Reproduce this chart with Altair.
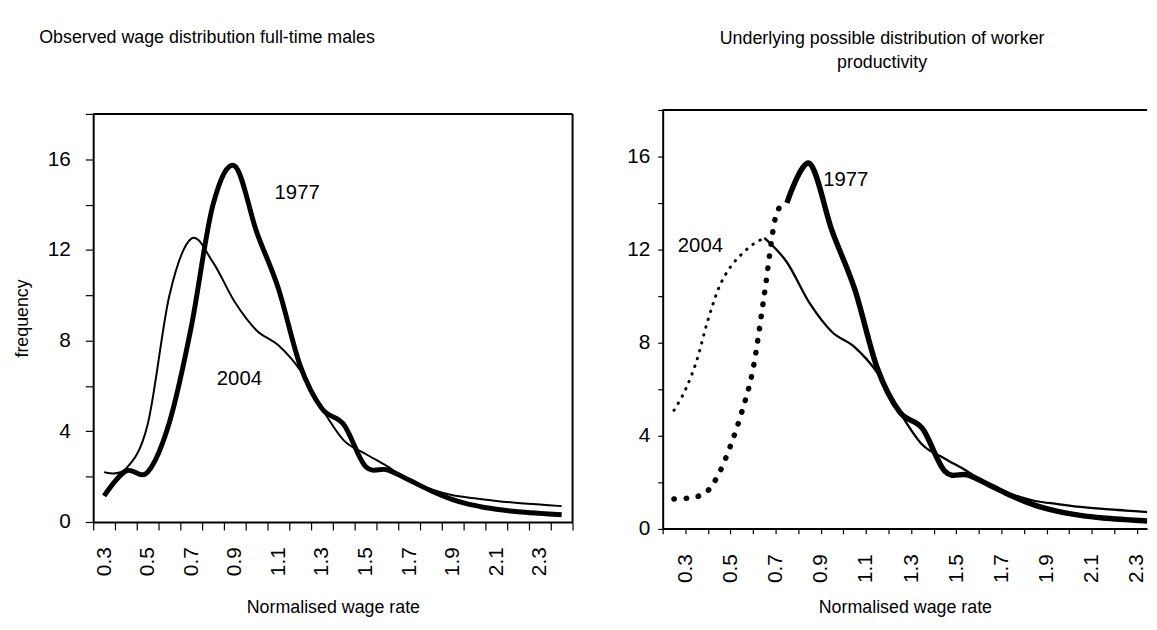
import altair as alt
import pandas as pd

# ---------------- data ----------------
wage_x = [0.3, 0.4, 0.5, 0.6, 0.7, 0.8, 0.9, 1.0, 1.1, 1.2, 1.3,
          1.4, 1.5, 1.6, 1.7, 1.8, 1.9, 2.0, 2.1, 2.2, 2.3, 2.4]
freq_1977 = [1.15, 2.25, 2.2, 4.4, 8.6, 14.0, 15.7, 12.8, 10.3, 6.9, 5.0,
             4.3, 2.45, 2.3, 1.85, 1.38, 0.99, 0.73, 0.56, 0.45, 0.38, 0.32]
freq_2004 = [2.2, 2.35, 4.3, 10.0, 12.5, 11.45, 9.7, 8.45, 7.8, 6.7, 5.0,
             3.6, 3.0, 2.45, 1.8, 1.45, 1.18, 1.05, 0.93, 0.84, 0.77, 0.70]

# underlying (dotted) productivity tails, right panel
prod_x_1977 = [0.3, 0.35, 0.4, 0.45, 0.5, 0.55, 0.6, 0.65, 0.7, 0.75, 0.8]
prod_1977 = [1.27, 1.29, 1.36, 1.62, 2.38, 3.55, 5.0, 6.85, 10.05, 13.4, 14.0]
prod_x_2004 = [0.3, 0.35, 0.4, 0.45, 0.5, 0.55, 0.6, 0.65, 0.7]
prod_2004 = [5.08, 5.95, 7.2, 8.95, 10.38, 11.25, 11.8, 12.22, 12.5]

x_tick_labels = ["0.3", "0.5", "0.7", "0.9", "1.1", "1.3", "1.5",
                 "1.7", "1.9", "2.1", "2.3"]
y_ticks = [0, 2, 4, 6, 8, 10, 12, 14, 16, 18]

series_labels = ["1977", "2004"]
left_label_x = [1.186, 0.921]
left_label_y = [14.5, 6.3]
right_label_x = [1.061, 0.417]
right_label_y = [15.0, 12.15]

FONT = "Liberation Sans"
FS_TITLE = 18
FS_TICK = 21
FS_NOTE = 20.5

# ---------------- helpers ----------------
x_min, x_max_left, x_max_right = 0.25, 2.45, 2.395
y_min, y_max = 0, 18
boundaries = [round(0.25 + 0.1 * k, 2) for k in range(23)]
label_vals_left = [float(s) for s in x_tick_labels]


def df_line(xs, ys):
    return pd.DataFrame({"x": xs, "y": ys})


def frame_df(x0, x1, y0, y1):
    return pd.DataFrame({"x": [x0], "x2": [x1], "y": [y0], "y2": [y1]})


y_label_expr = "datum.value % 4 == 0 ? format(datum.value, 'd') : ''"

# ---------------- left panel ----------------
LW, LH = 484, 422.5
lx = alt.X("x:Q", scale=alt.Scale(domain=[x_min, x_max_left], nice=False, zero=False),
           axis=alt.Axis(values=sorted(boundaries + label_vals_left), tickCount=200,
                         tickOpacity={"condition": {"test": "round(datum.value*20) % 2 == 0", "value": 0}, "value": 1},
                         labelExpr="round(datum.value*20) % 4 == 2 ? format(datum.value, '.1f') : ''",
                         labelAngle=270, labelOverlap=False, labelFlush=False,
                         tickSize=8, labelPadding=17, grid=False,
                         offset=-6.5, title="Normalised wage rate", titlePadding=23))
ly = alt.Y("y:Q", scale=alt.Scale(domain=[y_min, y_max], range=[416, 4], nice=False),
           axis=alt.Axis(values=y_ticks, tickCount=200, labelExpr=y_label_expr,
                         tickSize=8, labelPadding=15, grid=False,
                         title="frequency", titlePadding=16))

l1977 = alt.Chart(df_line(wage_x, freq_1977)).mark_line(
    color="black", strokeWidth=5, interpolate="cardinal").encode(x=lx, y=ly)
l2004 = alt.Chart(df_line(wage_x, freq_2004)).mark_line(
    color="black", strokeWidth=2, interpolate="cardinal").encode(x="x:Q", y="y:Q")
ltop = alt.Chart(frame_df(x_min, x_max_left, y_max, y_max)).mark_rule(
    color="black", strokeWidth=2).encode(x="x:Q", x2="x2:Q", y="y:Q")
lright = alt.Chart(frame_df(x_max_left, x_max_left, y_min, y_max)).mark_rule(
    color="black", strokeWidth=2).encode(x="x:Q", y="y:Q", y2="y2:Q")
ltext = alt.Chart(pd.DataFrame({"t": series_labels, "x": left_label_x, "y": left_label_y})).mark_text(
    font=FONT, fontSize=FS_NOTE, color="black").encode(x="x:Q", y="y:Q", text="t:N")

left = alt.layer(l1977, l2004, ltop, lright, ltext).properties(
    width=LW, height=LH,
    title=alt.TitleParams("Observed wage distribution full-time males", anchor="middle",
                          frame="group", dx=-127, baseline="alphabetic", offset=50,
                          font=FONT, fontSize=FS_TITLE, fontWeight="normal", color="black"))

# ---------------- right panel ----------------
RW = (x_max_right - x_min) * 228
RH = 422.5
rx = alt.X("x:Q", scale=alt.Scale(domain=[x_min, x_max_right], nice=False, zero=False),
           axis=alt.Axis(values=boundaries[:22], tickCount=200,
                         labelExpr="round(datum.value*20) % 4 == 3 ? format(datum.value - 0.05, '.1f') : ''",
                         labelAngle=270, labelOverlap=False, labelFlush=False,
                         tickSize=5.5, labelPadding=20, grid=False,
                         title="Normalised wage rate", titlePadding=16))
ry = alt.Y("y:Q", scale=alt.Scale(domain=[y_min, y_max], nice=False),
           axis=alt.Axis(values=y_ticks, tickCount=200, labelExpr=y_label_expr,
                         tickSize=5, labelPadding=8, grid=False, title=None))

r1977d = alt.Chart(df_line(prod_x_1977, prod_1977)).mark_line(
    color="black", strokeWidth=5.5, strokeDash=[0.5, 11.8], strokeCap="round",
    interpolate="cardinal").encode(x=rx, y=ry)
r2004d = alt.Chart(df_line(prod_x_2004, prod_2004)).mark_line(
    color="black", strokeWidth=3, strokeDash=[0.5, 7.7], strokeCap="round",
    interpolate="cardinal").encode(x="x:Q", y="y:Q")
r1977 = alt.Chart(df_line(wage_x[5:], freq_1977[5:])).mark_line(
    color="black", strokeWidth=5.5, interpolate="cardinal", clip=True).encode(x="x:Q", y="y:Q")
r2004 = alt.Chart(df_line(wage_x[4:], freq_2004[4:])).mark_line(
    color="black", strokeWidth=2.3, interpolate="cardinal", clip=True).encode(x="x:Q", y="y:Q")
rtop = alt.Chart(frame_df(x_min, x_max_right, y_max, y_max)).mark_rule(
    color="black", strokeWidth=2).encode(x="x:Q", x2="x2:Q", y="y:Q")
rtext = alt.Chart(pd.DataFrame({"t": series_labels, "x": right_label_x, "y": right_label_y})).mark_text(
    font=FONT, fontSize=FS_NOTE, color="black").encode(x="x:Q", y="y:Q", text="t:N")

right = alt.layer(r1977d, r2004d, r1977, r2004, rtop, rtext).properties(
    width=RW, height=RH,
    title=alt.TitleParams(["Underlying possible distribution of worker", "productivity"],
                          anchor="middle", frame="group", dx=-23, baseline="alphabetic",
                          offset=23, lineHeight=25,
                          font=FONT, fontSize=FS_TITLE, fontWeight="normal", color="black"))

chart = alt.hconcat(left, right, spacing=44).properties(
    padding={"left": 5, "top": 18, "right": 0, "bottom": 0},
    background="white"
).configure_view(stroke=None).configure_axis(
    labelFont=FONT, labelFontSize=FS_TICK, labelColor="black",
    titleFont=FONT, titleFontSize=FS_TITLE, titleColor="black", titleFontWeight="normal",
    domainColor="black", domainWidth=2, tickColor="black", tickWidth=1.2
)

chart.save("out.html", embed_options={"renderer": "svg", "actions": False})
